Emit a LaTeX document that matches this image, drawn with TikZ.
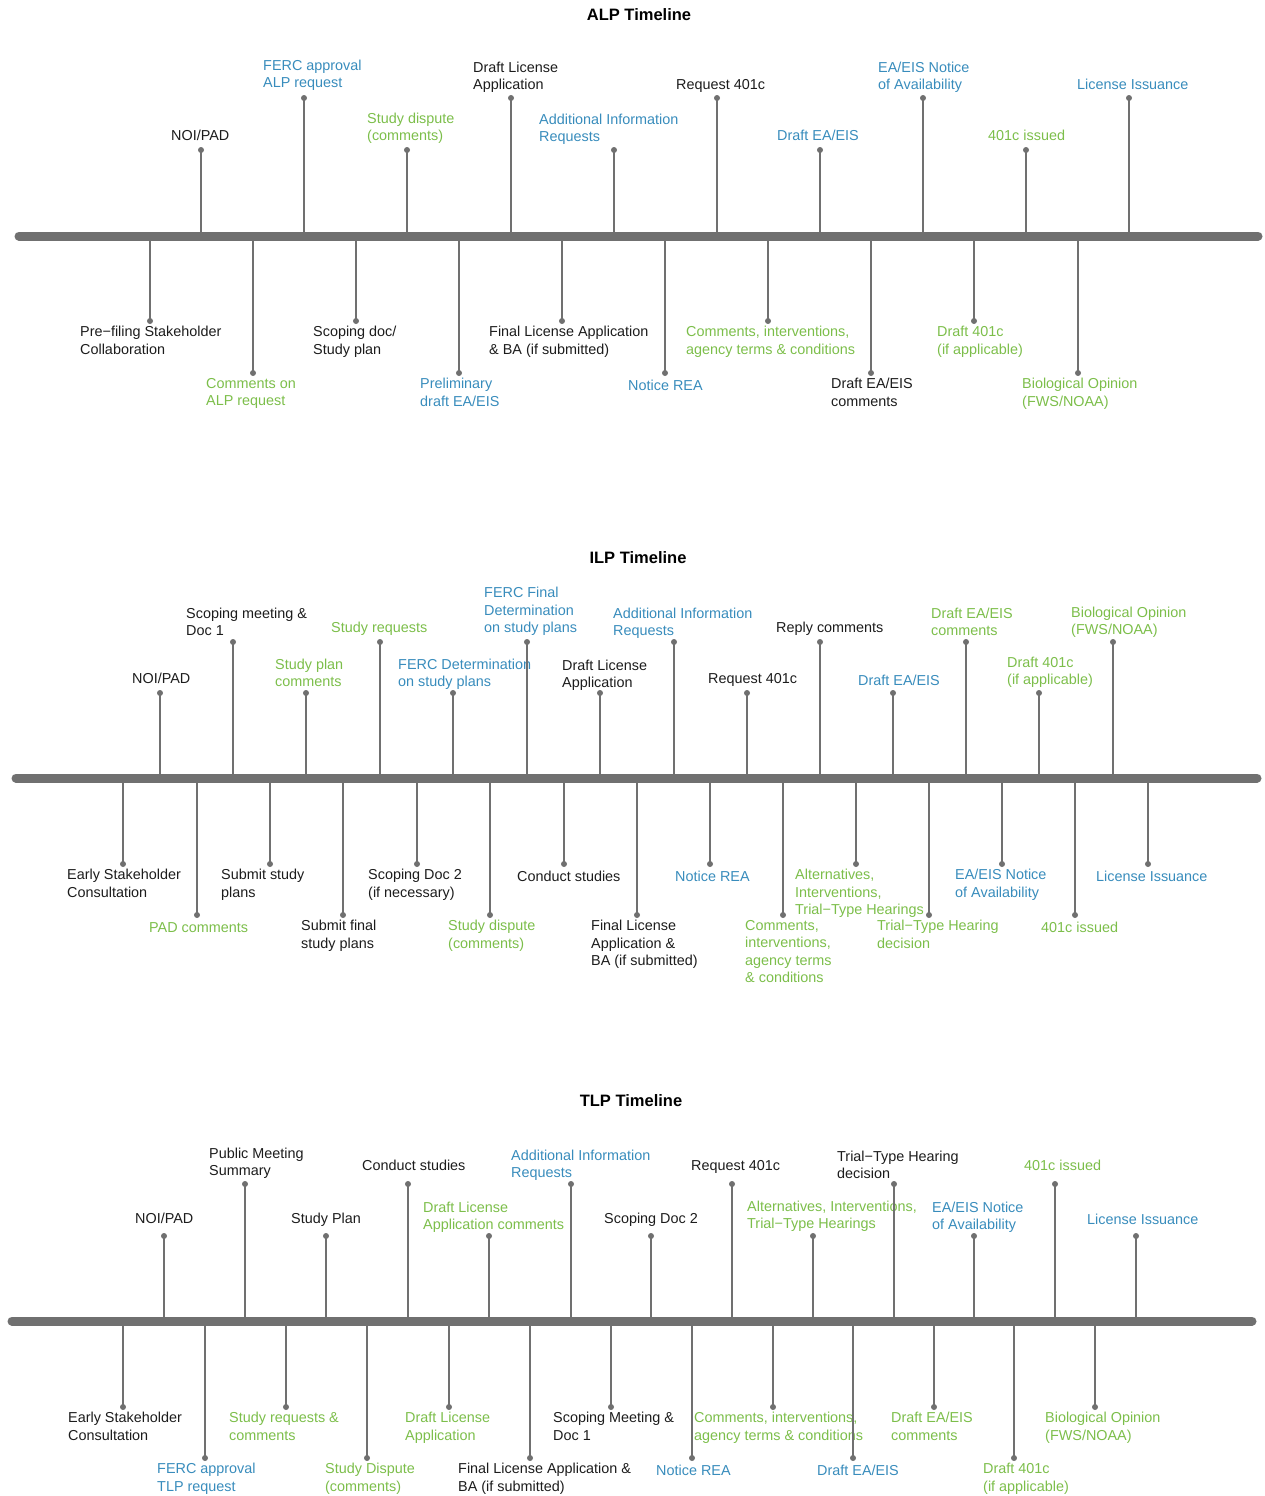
\documentclass[tikz,border=0pt]{standalone}
\usepackage{fontspec}
\setmainfont{Liberation Sans}
\definecolor{tlblue}{RGB}{56,140,188}
\definecolor{tlgreen}{RGB}{124,190,74}
\definecolor{tlgray}{RGB}{112,112,112}
\definecolor{tlblack}{RGB}{28,28,28}
\def\labstrut{\vrule width 0pt height 12pt depth 5pt\relax}
\begin{document}
\begin{tikzpicture}[x=1pt,y=-1pt,line cap=round,
    font=\fontsize{14.4}{17.5}\selectfont,
    axis/.style={line width=9pt,tlgray},
    stem/.style={line width=2.3pt,tlgray},
    dot/.style={circle,fill=tlgray,inner sep=0pt,minimum size=6pt},
    lab/.style={inner sep=0pt,align=left,execute at begin node=\labstrut,execute at end node=\labstrut},
    ttl/.style={font=\fontsize{16.5}{20}\selectfont\bfseries,text=black}]
\useasboundingbox (0,0) rectangle (1264,1496);

% ALP
\node[ttl] (alp) at (639,15) {ALP Timeline};
\coordinate (alp-l) at (19,236);
\coordinate (alp-r) at (1258,236);
\foreach \x/\dy/\lx/\ly/\c/\t [count=\i] in {
    201/150/171/136/tlblack/{NOI/PAD},
    304/98/263/83/tlblue/{FERC approval\\ALP request},
    407/150/367/136/tlgreen/{Study dispute\\(comments)},
    511/98/473/85/tlblack/{Draft License\\Application},
    614/150/539/137/tlblue/{Additional Information\\Requests},
    717/98/676/85/tlblack/{Request 401c},
    820/150/777/136/tlblue/{Draft EA/EIS},
    923/98/878/85/tlblue/{EA/EIS Notice\\of Availability},
    1026/150/988/136/tlgreen/{401c issued},
    1129/98/1077/85/tlblue/{License Issuance}}{
  \coordinate (alp-u\i-b) at (\x,236);
  \node[dot] (alp-u\i) at (\x,\dy) {};
  \draw[stem] (alp-u\i-b) -- (alp-u\i.center);
  \node[lab,text=\c,anchor=south west] (alp-u\i-t) at (\lx,\ly+10) {\t};
}
\foreach \x/\dy/\lx/\c/\t [count=\i] in {
    150/321/80/tlblack/{Pre−filing Stakeholder\\Collaboration},
    253/373/206/tlgreen/{Comments on\\ALP request},
    356/321/313/tlblack/{Scoping doc/\\Study plan},
    459/373/420/tlblue/{Preliminary\\draft EA/EIS},
    562/321/489/tlblack/{Final License Application\\\& BA (if submitted)},
    665/373/628/tlblue/{Notice REA},
    768/321/686/tlgreen/{Comments, interventions,\\agency terms \& conditions},
    871/373/831/tlblack/{Draft EA/EIS\\comments},
    974/321/937/tlgreen/{Draft 401c\\(if applicable)},
    1078/373/1022/tlgreen/{Biological Opinion\\(FWS/NOAA)}}{
  \coordinate (alp-d\i-b) at (\x,236);
  \node[dot] (alp-d\i) at (\x,\dy) {};
  \draw[stem] (alp-d\i-b) -- (alp-d\i.center);
  \node[lab,text=\c,anchor=north west] (alp-d\i-t) at (\lx,\dy+5) {\t};
}
\draw[axis] (alp-l) -- (alp-r);

% ILP
\node[ttl] (ilp) at (638,558) {ILP Timeline};
\coordinate (ilp-l) at (16,778);
\coordinate (ilp-r) at (1257,778);
\foreach \x/\dy/\lx/\ly/\c/\t [count=\i] in {
    160/693/132/679/tlblack/{NOI/PAD},
    233/642/186/631/tlblack/{Scoping meeting \&\\Doc 1},
    306/693/275/682/tlgreen/{Study plan\\comments},
    380/642/331/628/tlgreen/{Study requests},
    453/693/398/682/tlblue/{FERC Determination\\on study plans},
    527/642/484/628/tlblue/{FERC Final\\Determination\\on study plans},
    600/693/562/683/tlblack/{Draft License\\Application},
    674/642/613/631/tlblue/{Additional Information\\Requests},
    747/693/708/679/tlblack/{Request 401c},
    820/642/776/628/tlblack/{Reply comments},
    893/693/858/681/tlblue/{Draft EA/EIS},
    966/642/931/631/tlgreen/{Draft EA/EIS\\comments},
    1039/693/1007/680/tlgreen/{Draft 401c\\(if applicable)},
    1113/642/1071/630/tlgreen/{Biological Opinion\\(FWS/NOAA)}}{
  \coordinate (ilp-u\i-b) at (\x,778);
  \node[dot] (ilp-u\i) at (\x,\dy) {};
  \draw[stem] (ilp-u\i-b) -- (ilp-u\i.center);
  \node[lab,text=\c,anchor=south west] (ilp-u\i-t) at (\lx,\ly+10) {\t};
}
\foreach \x/\dy/\lx/\c/\t [count=\i] in {
    123/864/67/tlblack/{Early Stakeholder\\Consultation},
    197/915/149/tlgreen/{PAD comments},
    270/864/221/tlblack/{Submit study\\plans},
    343/915/301/tlblack/{Submit final\\study plans},
    417/864/368/tlblack/{Scoping Doc 2\\(if necessary)},
    490/915/448/tlgreen/{Study dispute\\(comments)},
    564/864/517/tlblack/{Conduct studies},
    637/915/591/tlblack/{Final License\\Application \&\\BA (if submitted)},
    710/864/675/tlblue/{Notice REA},
    783/915/745/tlgreen/{Comments,\\interventions,\\agency terms\\\& conditions},
    856/864/795/tlgreen/{Alternatives,\\Interventions,\\Trial−Type Hearings},
    929/915/877/tlgreen/{Trial−Type Hearing\\decision},
    1002/864/955/tlblue/{EA/EIS Notice\\of Availability},
    1075/915/1041/tlgreen/{401c issued},
    1148/864/1096/tlblue/{License Issuance}}{
  \coordinate (ilp-d\i-b) at (\x,778);
  \node[dot] (ilp-d\i) at (\x,\dy) {};
  \draw[stem] (ilp-d\i-b) -- (ilp-d\i.center);
  \node[lab,text=\c,anchor=north west] (ilp-d\i-t) at (\lx,\dy+5) {\t};
}
\draw[axis] (ilp-l) -- (ilp-r);

% TLP
\node[ttl] (tlp) at (631,1101) {TLP Timeline};
\coordinate (tlp-l) at (12,1321);
\coordinate (tlp-r) at (1252,1321);
\foreach \x/\dy/\lx/\ly/\c/\t [count=\i] in {
    164/1236/135/1219/tlblack/{NOI/PAD},
    245/1184/209/1171/tlblack/{Public Meeting\\Summary},
    326/1236/291/1219/tlblack/{Study Plan},
    408/1184/362/1166/tlblack/{Conduct studies},
    489/1236/423/1225/tlgreen/{Draft License\\Application comments},
    571/1184/511/1173/tlblue/{Additional Information\\Requests},
    651/1236/604/1219/tlblack/{Scoping Doc 2},
    732/1184/691/1166/tlblack/{Request 401c},
    813/1236/747/1224/tlgreen/{Alternatives, Interventions,\\Trial−Type Hearings},
    894/1184/837/1174/tlblack/{Trial−Type Hearing\\decision},
    974/1236/932/1225/tlblue/{EA/EIS Notice\\of Availability},
    1055/1184/1024/1166/tlgreen/{401c issued},
    1136/1236/1087/1220/tlblue/{License Issuance}}{
  \coordinate (tlp-u\i-b) at (\x,1321);
  \node[dot] (tlp-u\i) at (\x,\dy) {};
  \draw[stem] (tlp-u\i-b) -- (tlp-u\i.center);
  \node[lab,text=\c,anchor=south west] (tlp-u\i-t) at (\lx,\ly+10) {\t};
}
\foreach \x/\dy/\lx/\c/\t [count=\i] in {
    123/1407/68/tlblack/{Early Stakeholder\\Consultation},
    205/1458/157/tlblue/{FERC approval\\TLP request},
    286/1407/229/tlgreen/{Study requests \&\\comments},
    367/1458/325/tlgreen/{Study Dispute\\(comments)},
    449/1407/405/tlgreen/{Draft License\\Application},
    530/1458/458/tlblack/{Final License Application \&\\BA (if submitted)},
    611/1407/553/tlblack/{Scoping Meeting \&\\Doc 1},
    692/1458/656/tlblue/{Notice REA},
    773/1407/694/tlgreen/{Comments, interventions,\\agency terms \& conditions},
    853/1458/817/tlblue/{Draft EA/EIS},
    934/1407/891/tlgreen/{Draft EA/EIS\\comments},
    1014/1458/983/tlgreen/{Draft 401c\\(if applicable)},
    1095/1407/1045/tlgreen/{Biological Opinion\\(FWS/NOAA)}}{
  \coordinate (tlp-d\i-b) at (\x,1321);
  \node[dot] (tlp-d\i) at (\x,\dy) {};
  \draw[stem] (tlp-d\i-b) -- (tlp-d\i.center);
  \node[lab,text=\c,anchor=north west] (tlp-d\i-t) at (\lx,\dy+5) {\t};
}
\draw[axis] (tlp-l) -- (tlp-r);
\end{tikzpicture}
\end{document}
